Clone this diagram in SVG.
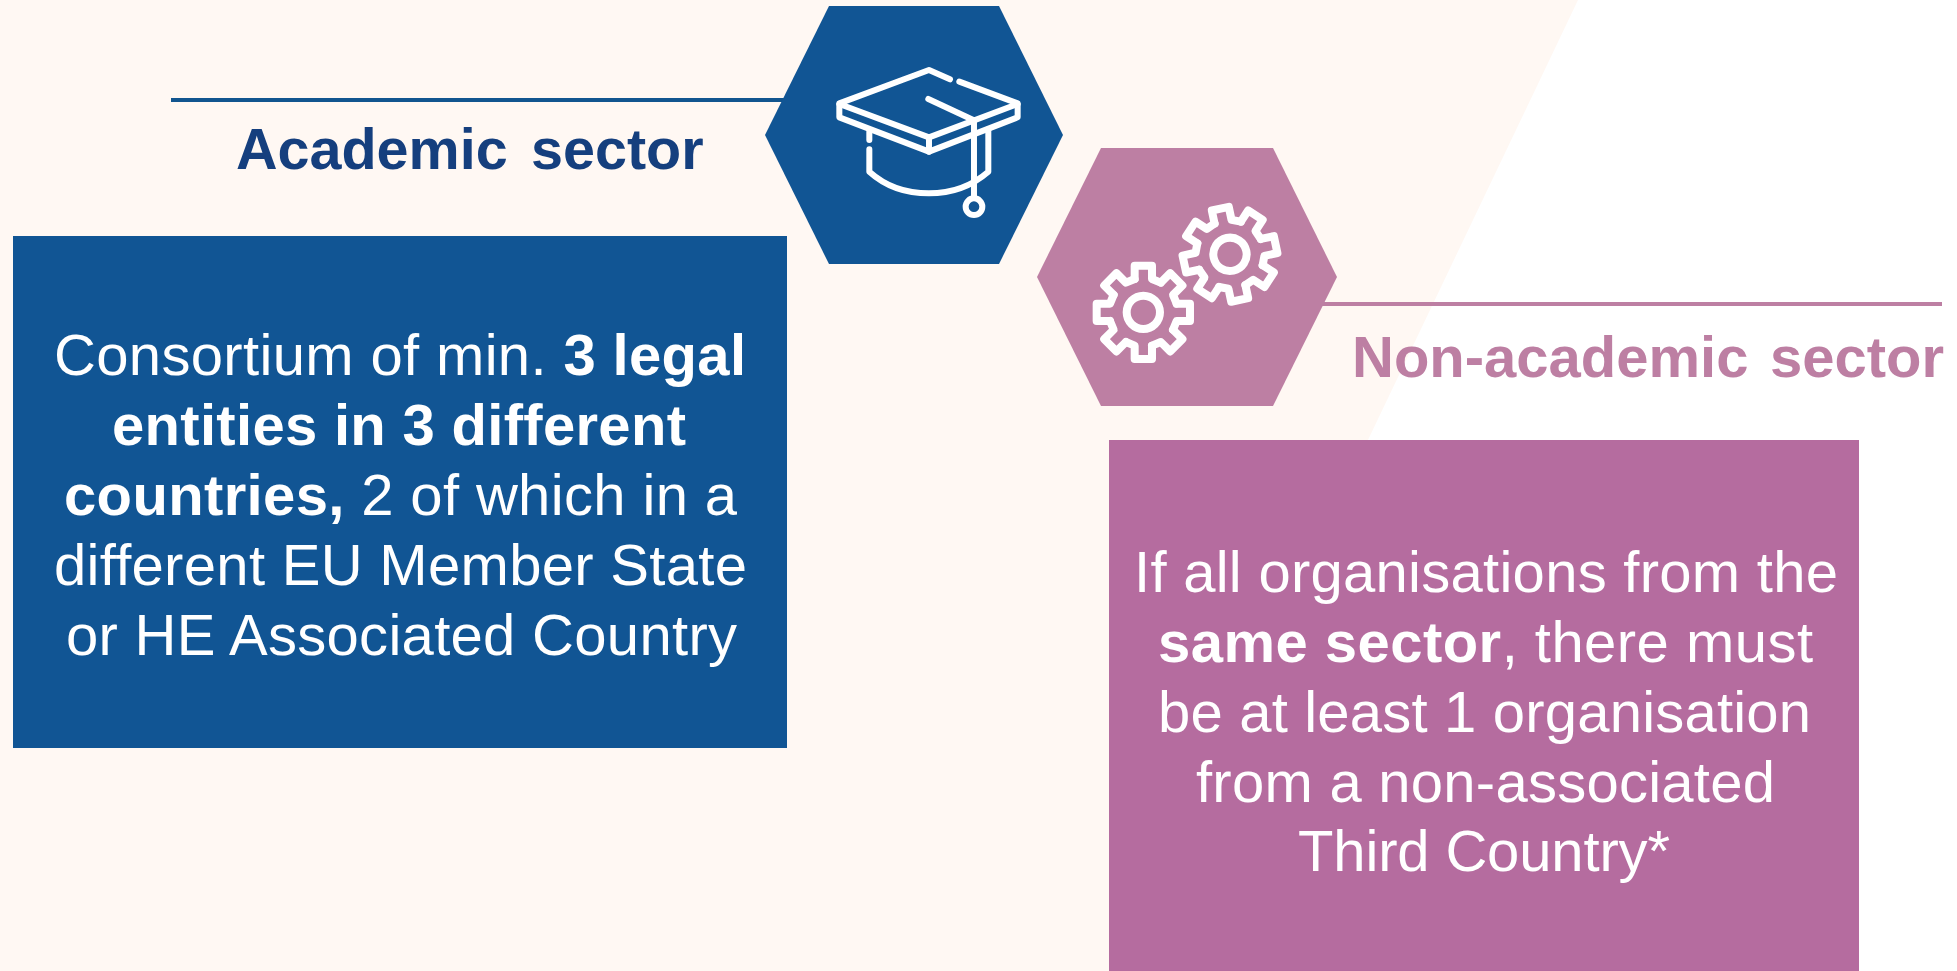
<svg xmlns="http://www.w3.org/2000/svg" width="1957" height="971" viewBox="0 0 1957 971">
<style>
text{font-family:"Liberation Sans",Arial,sans-serif}
.body{font-size:58px;fill:#fff}
.b{font-weight:700}
.head{font-size:57.5px;font-weight:700}
.ico{fill:none;stroke:#fff;stroke-linecap:round;stroke-linejoin:round}
.cap{stroke-width:18}
.gear{stroke-width:24}
</style>
<defs>
<g id="tooth"><path d="M-26,-100V-140H26V-100L52.3,-89.1"/></g>
<g id="cog" class="ico gear">
<circle r="50"/>
<use href="#tooth"/><use href="#tooth" transform="rotate(45)"/><use href="#tooth" transform="rotate(90)"/><use href="#tooth" transform="rotate(135)"/><use href="#tooth" transform="rotate(180)"/><use href="#tooth" transform="rotate(225)"/><use href="#tooth" transform="rotate(270)"/><use href="#tooth" transform="rotate(315)"/>
</g>
</defs>
<rect width="1957" height="971" fill="#fff"/>
<polygon points="0,0 1578,0 1114.5,971 0,971" fill="#fff8f3"/>
<g id="connectors" fill="none" stroke-width="4">
<line x1="171" y1="100" x2="800" y2="100" stroke="#11558f"/>
<line x1="1310" y1="304" x2="1942" y2="304" stroke="#bd7fa3"/>
</g>
<g id="academic-hex">
<polygon points="829,6 999,6 1063,135 999,264 829,264 765,135" fill="#115594"/>
<g class="ico cap" transform="translate(830,60) scale(.3333)">
<path d="M360,58L297,30L28,130V172L297,275L563,172V130L388,65"/>
<path d="M28,132L297,232L563,132"/>
<path d="M297,232V275"/>
<path d="M295,117L430,180"/>
<path d="M432,180V412"/>
<circle cx="432" cy="440" r="25"/>
<path d="M118,215V240M118,268V335Q190,400 297,400Q400,400 475,335V208"/>
</g>
</g>
<g id="non-academic-hex">
<polygon points="1101,148 1273,148 1337,277 1273,406 1101,406 1037,277" fill="#bd7fa3"/>
<g transform="translate(1080,195) scale(.3333)">
<use href="#cog" transform="translate(190,352)"/>
<use href="#cog" transform="translate(450,178) rotate(-12)"/>
</g>
</g>
<g id="academic-label"><text class="head" y="168.5" fill="#153f7e"><tspan x="236">Academic</tspan> <tspan x="531">sector</tspan></text></g>
<g id="non-academic-label"><text class="head" y="377" fill="#bd7fa3" style="font-size:58px"><tspan x="1352">Non-academic</tspan> <tspan x="1770">sector</tspan></text></g>
<g id="academic-box">
<rect x="13" y="236" width="774" height="512" fill="#115594"/>
<text class="body" x="54" y="375" textLength="692">Consortium of min. <tspan class="b">3 legal</tspan></text>
<text class="body b" x="112" y="445" textLength="574">entities in 3 different</text>
<text class="body" x="64" y="515" textLength="673"><tspan class="b">countries,</tspan> 2 of which in a</text>
<text class="body" x="54" y="585" textLength="693">different EU Member State</text>
<text class="body" x="66" y="655" textLength="671">or HE Associated Country</text>
</g>
<g id="non-academic-box">
<rect x="1109" y="440" width="750" height="531" fill="#b56c9f"/>
<text class="body" x="1134" y="592" textLength="704">If all organisations from the</text>
<text class="body" x="1158" y="662" textLength="655"><tspan class="b">same sector</tspan>, there must</text>
<text class="body" x="1158" y="732" textLength="653">be at least 1 organisation</text>
<text class="body" x="1196" y="802" textLength="579">from a non-associated</text>
<text class="body" x="1298" y="871" textLength="372">Third Country*</text>
</g>
</svg>
